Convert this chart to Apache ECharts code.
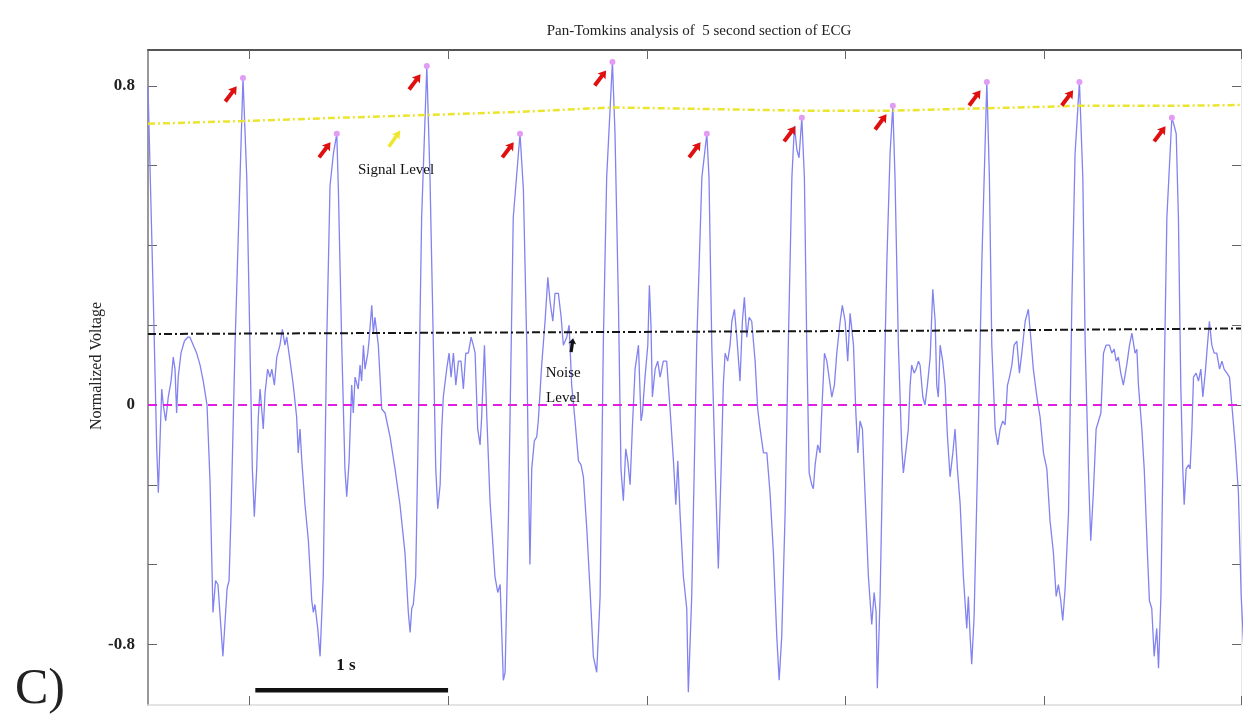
<!DOCTYPE html>
<html>
<head>
<meta charset="utf-8">
<title>Pan-Tomkins analysis</title>
<script src="https://cdn.jsdelivr.net/npm/echarts@6.0.0/dist/echarts.min.js"></script>
<style>
  html, body { margin: 0; padding: 0; background: #fff; }
  #chart { width: 1248px; height: 714px; }
</style>
</head>
<body>
<div id="chart"></div>
<script>
// filtered ECG trace, [time (s), normalized voltage]
var ecgSamples = [
  [0,0.80],[0.027,0.26],[0.044,-0.11],[0.052,-0.22],[0.069,0.04],[0.077,0.00],[0.089,-0.04],[0.102,0.02],[0.116,0.06],[0.127,0.12],[0.136,0.09],[0.144,-0.02],[0.152,0.07],[0.166,0.13],[0.183,0.16],[0.200,0.17],[0.211,0.17],[0.228,0.15],[0.245,0.13],[0.262,0.10],[0.278,0.06],[0.297,0.00],[0.312,-0.19],[0.327,-0.52],[0.340,-0.44],[0.352,-0.45],[0.377,-0.63],[0.398,-0.46],[0.408,-0.44],[0.418,-0.27],[0.438,0.15],[0.463,0.57],[0.478,0.82],
  [0.497,0.57],[0.513,0.15],[0.525,-0.16],[0.535,-0.28],[0.547,-0.16],[0.555,-0.03],[0.564,0.04],[0.572,-0.01],[0.580,-0.06],[0.589,0.03],[0.602,0.09],[0.614,0.07],[0.623,0.09],[0.636,0.05],[0.648,0.12],[0.664,0.15],[0.676,0.19],[0.689,0.15],[0.698,0.17],[0.715,0.11],[0.731,0.05],[0.748,-0.03],[0.756,-0.12],[0.765,-0.06],[0.774,-0.14],[0.790,-0.25],[0.807,-0.34],[0.824,-0.49],[0.832,-0.52],[0.840,-0.50],[0.854,-0.56],[0.866,-0.63],[0.882,-0.43],[0.899,0.15],[0.916,0.55],[0.933,0.63],[0.950,0.68],
  [0.958,0.54],[0.975,0.15],[0.991,-0.16],[1.000,-0.23],[1.012,-0.14],[1.025,0.05],[1.033,-0.02],[1.042,0.07],[1.058,0.04],[1.067,0.10],[1.075,0.06],[1.084,0.15],[1.092,0.09],[1.106,0.13],[1.112,0.16],[1.126,0.25],[1.134,0.18],[1.142,0.22],[1.159,0.15],[1.176,-0.01],[1.193,-0.02],[1.218,-0.08],[1.243,-0.16],[1.268,-0.25],[1.293,-0.37],[1.310,-0.52],[1.319,-0.57],[1.327,-0.51],[1.335,-0.50],[1.347,-0.43],[1.360,-0.06],[1.377,0.47],[1.403,0.85],
  [1.419,0.57],[1.436,0.15],[1.448,-0.16],[1.458,-0.26],[1.470,-0.20],[1.478,-0.06],[1.486,0.02],[1.503,0.09],[1.515,0.13],[1.525,0.07],[1.537,0.13],[1.549,0.05],[1.562,0.11],[1.575,0.11],[1.587,0.04],[1.599,0.13],[1.612,0.13],[1.626,0.17],[1.637,0.15],[1.646,0.13],[1.659,-0.06],[1.671,-0.10],[1.679,-0.03],[1.693,0.15],[1.705,-0.03],[1.721,-0.24],[1.730,-0.24],[1.746,-0.43],[1.760,-0.47],[1.772,-0.45],[1.788,-0.69],[1.797,-0.67],[1.813,-0.30],[1.838,0.47],[1.872,0.68],
  [1.889,0.54],[1.906,0.15],[1.914,-0.16],[1.922,-0.40],[1.931,-0.16],[1.944,-0.09],[1.956,-0.08],[1.964,-0.04],[1.981,0.10],[1.998,0.21],[2.012,0.32],[2.023,0.26],[2.037,0.21],[2.048,0.28],[2.065,0.28],[2.079,0.22],[2.090,0.15],[2.107,0.17],[2.119,0.20],[2.132,0.05],[2.149,-0.04],[2.166,-0.14],[2.179,-0.15],[2.191,-0.18],[2.208,-0.31],[2.224,-0.46],[2.241,-0.63],[2.258,-0.67],[2.275,-0.48],[2.291,0.15],[2.308,0.57],[2.337,0.86],
  [2.350,0.68],[2.367,0.26],[2.380,-0.16],[2.392,-0.24],[2.404,-0.11],[2.414,-0.14],[2.426,-0.20],[2.437,-0.06],[2.451,0.09],[2.468,0.15],[2.481,-0.04],[2.488,-0.02],[2.501,0.07],[2.515,0.15],[2.523,0.30],[2.531,0.20],[2.538,0.02],[2.552,0.09],[2.565,0.11],[2.577,0.07],[2.593,0.11],[2.610,0.11],[2.627,-0.01],[2.644,-0.14],[2.656,-0.25],[2.666,-0.14],[2.677,-0.27],[2.694,-0.43],[2.711,-0.51],[2.719,-0.72],[2.736,-0.48],[2.761,0.15],[2.787,0.57],[2.812,0.68],
  [2.823,0.57],[2.837,0.15],[2.854,-0.16],[2.870,-0.41],[2.884,-0.16],[2.895,0.05],[2.904,0.13],[2.917,0.11],[2.929,0.15],[2.938,0.21],[2.951,0.24],[2.963,0.17],[2.979,0.06],[2.991,0.21],[3.001,0.27],[3.013,0.17],[3.025,0.22],[3.038,0.21],[3.055,0.11],[3.068,-0.01],[3.080,-0.06],[3.097,-0.12],[3.114,-0.12],[3.130,-0.22],[3.147,-0.37],[3.164,-0.58],[3.176,-0.69],[3.189,-0.58],[3.206,-0.27],[3.222,0.15],[3.240,0.57],[3.253,0.70],[3.265,0.64],[3.276,0.62],[3.290,0.72],
  [3.303,0.57],[3.315,0.15],[3.327,-0.17],[3.340,-0.20],[3.348,-0.21],[3.357,-0.15],[3.370,-0.10],[3.382,-0.12],[3.390,-0.02],[3.404,0.13],[3.416,0.11],[3.427,0.07],[3.441,0.02],[3.454,0.05],[3.466,0.13],[3.483,0.21],[3.494,0.25],[3.508,0.21],[3.521,0.11],[3.533,0.23],[3.550,0.15],[3.562,-0.02],[3.572,-0.12],[3.583,-0.04],[3.595,-0.06],[3.608,-0.22],[3.625,-0.43],[3.642,-0.55],[3.654,-0.47],[3.664,-0.52],[3.670,-0.71],[3.684,-0.48],[3.700,-0.06],[3.718,0.36],[3.734,0.63],[3.748,0.75],
  [3.759,0.57],[3.776,0.15],[3.793,-0.11],[3.801,-0.17],[3.815,-0.11],[3.826,-0.06],[3.835,0.05],[3.843,0.10],[3.855,0.08],[3.865,0.09],[3.877,0.11],[3.885,0.10],[3.899,0.02],[3.910,0.00],[3.922,0.05],[3.936,0.12],[3.949,0.29],[3.961,0.21],[3.969,0.05],[3.977,0.02],[3.986,0.15],[3.999,0.11],[4.011,0.05],[4.023,-0.08],[4.036,-0.18],[4.050,-0.12],[4.061,-0.06],[4.073,-0.16],[4.087,-0.25],[4.103,-0.43],[4.120,-0.56],[4.128,-0.48],[4.137,-0.58],[4.145,-0.65],[4.157,-0.53],[4.174,-0.16],[4.196,0.36],[4.221,0.81],
  [4.234,0.57],[4.246,0.15],[4.263,-0.06],[4.276,-0.10],[4.288,-0.06],[4.301,-0.04],[4.313,-0.05],[4.325,0.05],[4.335,0.07],[4.347,0.10],[4.358,0.15],[4.372,0.16],[4.385,0.08],[4.397,0.13],[4.414,0.21],[4.430,0.24],[4.442,0.17],[4.455,0.09],[4.473,0.02],[4.489,-0.03],[4.506,-0.12],[4.523,-0.16],[4.539,-0.29],[4.556,-0.37],[4.570,-0.48],[4.581,-0.45],[4.593,-0.49],[4.603,-0.54],[4.615,-0.46],[4.632,-0.27],[4.649,0.26],[4.665,0.63],[4.687,0.81],
  [4.704,0.57],[4.716,0.15],[4.732,-0.16],[4.744,-0.34],[4.757,-0.22],[4.771,-0.06],[4.783,-0.04],[4.795,-0.02],[4.808,0.13],[4.821,0.15],[4.838,0.15],[4.850,0.13],[4.862,0.14],[4.872,0.11],[4.883,0.12],[4.895,0.08],[4.908,0.05],[4.925,0.10],[4.939,0.15],[4.951,0.18],[4.967,0.13],[4.976,0.14],[4.984,0.05],[5.001,-0.06],[5.013,-0.16],[5.029,-0.37],[5.039,-0.49],[5.051,-0.51],[5.063,-0.63],[5.076,-0.56],[5.085,-0.66],[5.097,-0.48],[5.113,0.05],[5.127,0.47],[5.152,0.72],
  [5.164,0.70],[5.174,0.68],[5.185,0.47],[5.197,0.05],[5.207,-0.16],[5.214,-0.25],[5.224,-0.16],[5.236,-0.15],[5.244,-0.16],[5.253,-0.06],[5.261,0.07],[5.274,0.08],[5.286,0.06],[5.298,0.09],[5.308,0.02],[5.320,0.08],[5.331,0.15],[5.341,0.21],[5.353,0.15],[5.365,0.13],[5.378,0.13],[5.392,0.09],[5.404,0.11],[5.415,0.09],[5.429,0.08],[5.442,0.07],[5.454,0.00],[5.471,-0.10],[5.487,-0.22],[5.501,-0.48],[5.521,-0.68]
];

// detected R peaks
var peakTime = [0.478, 0.950, 1.403, 1.872, 2.337, 2.812, 3.290, 3.748, 4.221, 4.687, 5.152];
var peakVolt = [0.82, 0.68, 0.85, 0.68, 0.86, 0.68, 0.72, 0.75, 0.81, 0.81, 0.72];

// adaptive thresholds
var signalTime = [0, 0.478, 0.950, 1.403, 1.872, 2.337, 2.812, 3.290, 3.748, 4.221, 4.687, 5.152, 5.5];
var signalLevel = [0.705, 0.712, 0.720, 0.727, 0.735, 0.746, 0.742, 0.738, 0.738, 0.744, 0.750, 0.750, 0.752];
var noiseTime = [0, 1.4, 2.8, 4.2, 5.5];
var noiseLevel = [0.178, 0.181, 0.184, 0.187, 0.192];
var baselineTime = [0, 5.5];

// axes
var xRange = [0, 5.5];
var yRange = [-0.752, 0.89];
var xTickValues = [0.51, 1.51, 2.51, 3.51, 4.51, 5.5];
var yTickValues = [-0.6, -0.4, -0.2, 0, 0.2, 0.4, 0.6, 0.8];
var yLabelValues = [-0.6, 0, 0.8];
var yLabelTexts = ['-0.8', '0', '0.8'];

// annotations (data coordinates)
var signalLabelPos = [1.248, 0.589];
var signalArrowPos = [1.241, 0.668];
var noiseLabelPos = [2.089, 0.049];
var noiseArrowPos = [2.134, 0.15];
var scaleBarTime = [0.54, 1.51];
var scaleBarVolt = -0.715;
var scaleLabelPos = [0.996, -0.652];

var serif = "'Liberation Serif', 'DejaVu Serif', serif";
var arrowPath = 'path://M5,0 L10,9 L7,8 L7,22 L3,22 L3,8 L0,9 Z';

function pairs(xs, ys) {
  return xs.map(function (x, i) { return [x, ys[i]]; });
}

var peaks = pairs(peakTime, peakVolt);

function textPoint(pos, text, extra) {
  var label = {
    show: true,
    position: 'inside',
    formatter: text,
    fontFamily: serif,
    fontSize: 15,
    color: '#111'
  };
  for (var k in extra) label[k] = extra[k];
  return {
    type: 'scatter',
    data: [pos],
    symbolSize: 1,
    itemStyle: { color: 'rgba(0,0,0,0)', opacity: 1 },
    label: label,
    silent: true,
    z: 7
  };
}

var tickLine = { color: '#666', width: 1 };

var option = {
  animation: false,
  backgroundColor: '#fff',
  title: {
    text: 'Pan-Tomkins analysis of  5 second section of ECG',
    left: 694,
    top: 19,
    textAlign: 'center',
    textStyle: { fontFamily: serif, fontSize: 15, fontWeight: 'normal', color: '#222' }
  },
  grid: { left: 148, right: 7, top: 50, bottom: 9, containLabel: false, outerBoundsMode: 'none' },
  xAxis: [
    {
      type: 'value', min: xRange[0], max: xRange[1], position: 'bottom',
      axisLine: { show: true, onZero: false, lineStyle: { color: '#dcdcdc', width: 1.5 } },
      axisTick: { show: true, inside: true, length: 9, customValues: xTickValues, lineStyle: tickLine },
      axisLabel: { show: false },
      splitLine: { show: false }
    },
    {
      type: 'value', min: xRange[0], max: xRange[1], position: 'top',
      axisLine: { show: true, onZero: false, lineStyle: { color: '#555', width: 2 } },
      axisTick: { show: true, inside: true, length: 9, customValues: xTickValues, lineStyle: tickLine },
      axisLabel: { show: false },
      splitLine: { show: false }
    }
  ],
  yAxis: [
    {
      type: 'value', min: yRange[0], max: yRange[1], position: 'left',
      axisLine: { show: true, onZero: false, lineStyle: { color: '#777', width: 1.5 } },
      axisTick: { show: true, inside: true, length: 9, customValues: yTickValues, lineStyle: tickLine },
      axisLabel: {
        show: true,
        customValues: yLabelValues,
        margin: 13,
        fontFamily: serif,
        fontSize: 17,
        fontWeight: 'bold',
        color: '#222',
        formatter: function (v) {
          for (var i = 0; i < yLabelValues.length; i++) {
            if (Math.abs(v - yLabelValues[i]) < 1e-6) return yLabelTexts[i];
          }
          return '';
        }
      },
      splitLine: { show: false }
    },
    {
      type: 'value', min: yRange[0], max: yRange[1], position: 'right',
      axisLine: { show: true, onZero: false, lineStyle: { color: '#e6e6e6', width: 1 } },
      axisTick: { show: true, inside: true, length: 9, customValues: yTickValues, lineStyle: tickLine },
      axisLabel: { show: false },
      splitLine: { show: false }
    }
  ],
  graphic: [
    {
      type: 'text',
      x: 97, y: 366,
      rotation: Math.PI / 2,
      style: { text: 'Normalized Voltage', font: '16px ' + serif, fill: '#222', align: 'center', verticalAlign: 'middle' }
    },
    {
      type: 'text',
      x: 15, y: 690,
      style: { text: 'C)', font: '50px ' + serif, fill: '#222', align: 'left', verticalAlign: 'middle' }
    }
  ],
  series: [
    {
      name: 'ECG',
      type: 'line',
      data: ecgSamples,
      symbol: 'none',
      showSymbol: false,
      lineStyle: { color: '#8282f0', width: 1.3 },
      clip: true,
      z: 2
    },
    {
      name: 'Signal Level',
      type: 'line',
      data: pairs(signalTime, signalLevel),
      symbol: 'none',
      lineStyle: { color: '#ece52e', width: 2.5, type: [7, 3, 2, 3] },
      z: 3
    },
    {
      name: 'Noise Level',
      type: 'line',
      data: pairs(noiseTime, noiseLevel),
      symbol: 'none',
      lineStyle: { color: '#151515', width: 2, type: [8, 3, 2, 3] },
      z: 3
    },
    {
      name: 'Baseline',
      type: 'line',
      data: baselineTime.map(function (t) { return [t, 0]; }),
      symbol: 'none',
      lineStyle: { color: '#e020e0', width: 2, type: [9, 6] },
      z: 3
    },
    {
      name: 'R peaks',
      type: 'scatter',
      data: peaks,
      symbol: 'circle',
      symbolSize: 6,
      itemStyle: { color: '#e39cf3', opacity: 1 },
      z: 4
    },
    {
      name: 'R arrows',
      type: 'scatter',
      data: peaks,
      symbol: arrowPath,
      symbolSize: [10, 19],
      symbolRotate: -37,
      symbolOffset: [-12, 16],
      symbolKeepAspect: false,
      itemStyle: { color: '#e01010', opacity: 1 },
      z: 5
    },
    {
      name: 'Signal arrow',
      type: 'scatter',
      data: [signalArrowPos],
      symbol: arrowPath,
      symbolSize: [9, 20],
      symbolRotate: -35,
      itemStyle: { color: '#f0e632', opacity: 1 },
      z: 5
    },
    {
      name: 'Noise arrow',
      type: 'scatter',
      data: [noiseArrowPos],
      symbol: arrowPath,
      symbolSize: [8, 14],
      symbolRotate: -8,
      itemStyle: { color: '#111', opacity: 1 },
      z: 5
    },
    {
      name: 'Scale bar',
      type: 'line',
      data: scaleBarTime.map(function (t) { return [t, scaleBarVolt]; }),
      symbol: 'none',
      lineStyle: { color: '#111', width: 4.5 },
      z: 5
    },
    textPoint(signalLabelPos, 'Signal Level', {}),
    textPoint(noiseLabelPos, 'Noise\nLevel', { lineHeight: 25 }),
    textPoint(scaleLabelPos, '1 s', { fontSize: 17, fontWeight: 'bold', color: '#111' })
  ]
};

var chart = echarts.init(document.getElementById('chart'));
chart.setOption(option);
</script>
</body>
</html>
